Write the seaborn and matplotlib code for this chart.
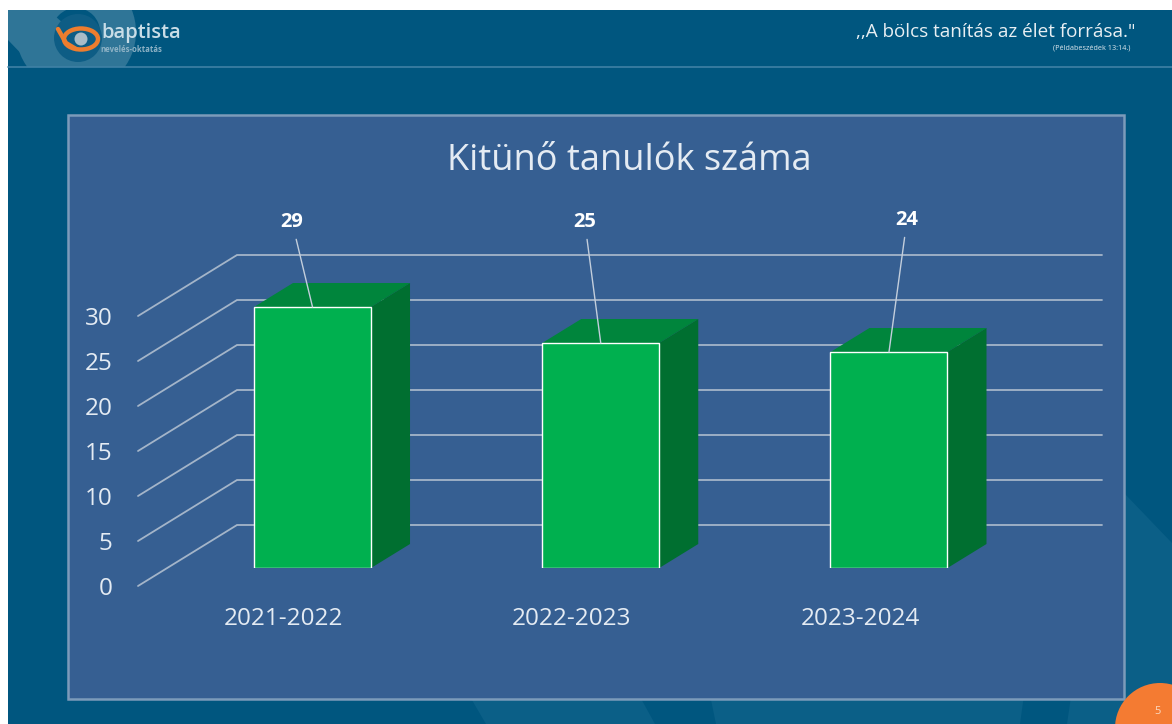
import matplotlib
matplotlib.use('Agg')
import matplotlib.pyplot as plt
import seaborn as sns
from matplotlib.patches import Rectangle, Circle, Polygon, Ellipse, Wedge
from matplotlib.transforms import Affine2D

# chart data
years = ['2021-2022', '2022-2023', '2023-2024']
students = [29, 25, 24]
y_ticks = [0, 5, 10, 15, 20, 25, 30]
title = 'Kitünő tanulók száma'

W, H = 1172, 724
sns.set_theme(style='white')
plt.rcParams['font.family'] = ['Open Sans', 'DejaVu Sans']

slide_dark = '#00567f'
slide_light = '#0b5f87'
panel = '#365f92'
panel_edge = '#7c9bba'
grid_col = '#a4b5c9'
text_col = '#e4ebf3'

fig = plt.figure(figsize=(W / 100, H / 100), dpi=100, facecolor='white')

# background layer works in image pixels
bg = fig.add_axes([0, 0, 1, 1], zorder=0)
bg.set_xlim(0, W)
bg.set_ylim(H, 0)
bg.axis('off')

# chart layer, front plane of the bars
left, right, top, bottom = 168.4, 1033.1, 298, 568
ax = fig.add_axes([left / W, 1 - bottom / H, (right - left) / W, (bottom - top) / H], zorder=1)
ax.patch.set_alpha(0)

# slide
bg.add_patch(Rectangle((8, 10), W - 8, H - 10, color=slide_dark, lw=0))
bg.add_patch(Polygon([(1124, 493), (1172, 543), (1172, 724), (1067, 724), (1072, 690), (1124, 690)], color=slide_light, lw=0))
bg.add_patch(Polygon([(469, 695), (639, 695), (655, 724), (486, 724)], color=slide_light, lw=0))
bg.add_patch(Polygon([(710, 695), (1024, 695), (1020, 724), (716, 724)], color=slide_light, lw=0))

# logo swirl in the header
header_clip = Rectangle((8, 10), W - 8, 57, transform=bg.transData)
swirl = [
    Wedge((76, 32), 60, 0, 360, width=36, color='#2f7597', lw=0),
    Polygon([(8, 40), (8, 10), (48, 10), (78, 36), (46, 67), (34, 67)], color='#2f7597', lw=0),
    Circle((78, 38), 24, color='#0e5d85', lw=0),
]
for s in swirl:
    bg.add_patch(s)
    s.set_clip_path(header_clip)
bg.plot([8, W], [67, 67], color='#3f81a5', lw=1.2)

# logo mark
bg.add_patch(Ellipse((81, 39), 34, 21, fill=False, ec='#ee7d2e', lw=3.2))
bg.plot([58, 66, 76], [29, 43, 49], color='#ee7d2e', lw=3.2, solid_capstyle='round')
bg.add_patch(Circle((81, 39), 6.5, color='#a9bcc7', lw=0))
bg.text(101, 33, 'baptista', color='#c9dde7', fontsize=14.5, fontweight='semibold', va='center')
bg.text(100, 49, 'nevelés-oktatás', color='#8fb3c6', fontsize=5.6, fontweight='bold', va='center')

bg.text(1135, 32, ',,A bölcs tanítás az élet forrása."', color='#e8eff3', fontsize=13.6, ha='right', va='center')
bg.text(1130, 48, '(Példabeszédek 13:14.)', color='#dfe8ee', fontsize=5.2, ha='right', va='center')

# panel behind the chart
bg.add_patch(Rectangle((68, 115), 1056, 584, fc=panel, ec=panel_edge, lw=1.8))
bg.text(629.5, 161, title, color=text_col, fontsize=26, ha='center', va='center')

# page number
bg.add_patch(Circle((1160, 728), 45, color='#f47b32', lw=0))
bg.text(1158, 711, '5', color='#fbd9c0', fontsize=8, ha='center', va='center')

# bars
sns.barplot(x=years, y=students, color='#00b04f', saturation=1, width=0.406, ax=ax)
ax.set_ylim(0, 30)
ax.set_yticks(y_ticks)
ax.set_xlabel('')
ax.set_ylabel('')
sns.despine(ax=ax, left=True, bottom=True)
ax.tick_params(length=0, pad=0, labelsize=17.5, labelcolor=text_col)

# tick labels sit on the front edge of the floor, not under the bars
for lab in ax.get_xticklabels():
    lab.set_transform(lab.get_transform() + Affine2D().translate(-29, -39))
for lab in ax.get_yticklabels():
    lab.set_transform(lab.get_transform() + Affine2D().translate(-56, -18))


def px_y(v):
    return H - ax.transData.transform((0, v))[1]


# back wall lines and the floor side lines
for v in y_ticks:
    y = px_y(v)
    bg.plot([138, 237, 1102], [y + 18, y - 43, y - 43], color=grid_col, lw=1.3, zorder=2, solid_joinstyle='miter')

# depth of the bars
dx, dy = 39, -24
for p in ax.patches:
    e = p.get_window_extent()
    x0, x1 = e.x0, e.x1
    y0, y1 = H - e.y1, H - e.y0
    bg.add_patch(Polygon([(x0, y0), (x0 + dx, y0 + dy), (x1 + dx, y0 + dy), (x1, y0)], color='#00853c', lw=0, zorder=3))
    bg.add_patch(Polygon([(x1, y0), (x1 + dx, y0 + dy), (x1 + dx, y1 + dy), (x1, y1)], color='#006f30', lw=0, zorder=3))

# value labels with leader lines
label_offsets = [(-20.5, 85), (-16, 121), (18, 132)]
for i, (v, off) in enumerate(zip(students, label_offsets)):
    ax.annotate(str(v), xy=(i, v), xytext=off, textcoords='offset pixels', ha='center', va='center',
                color='white', fontsize=14.5, fontweight='bold', annotation_clip=False,
                arrowprops=dict(arrowstyle='-', color='#c3cedc', lw=1, shrinkA=3, shrinkB=0))

fig.savefig('out.png', dpi=100, facecolor='white')
